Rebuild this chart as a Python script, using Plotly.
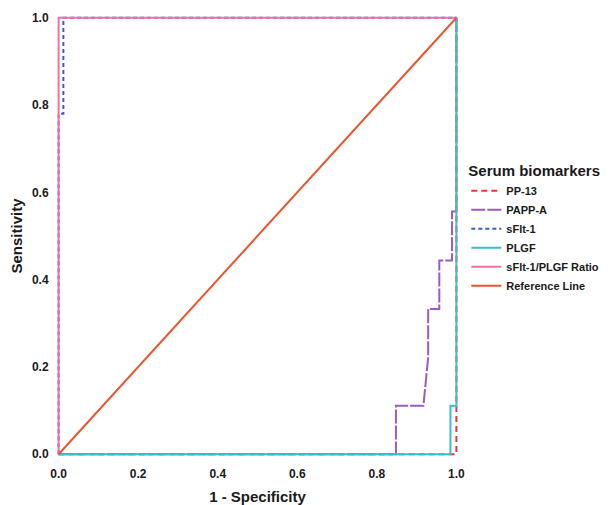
import plotly.graph_objects as go

# ROC curve data (1 - Specificity, Sensitivity)
pp13_x = [0.0, 1.0, 1.0, 1.0]
pp13_y = [0.0, 0.0, 0.111, 1.0]

pappa_x = [0.0, 0.848, 0.848, 0.917, 0.929, 0.929, 0.957, 0.957, 0.989, 0.989, 1.0, 1.0]
pappa_y = [0.0, 0.0, 0.111, 0.111, 0.222, 0.333, 0.333, 0.444, 0.444, 0.556, 0.556, 1.0]

sflt_x = [0.0, 0.0, 0.012, 0.012, 1.0]
sflt_y = [0.0, 0.78, 0.78, 1.0, 1.0]

plgf_x = [0.0, 0.985, 0.985, 1.0, 1.0]
plgf_y = [0.0, 0.0, 0.111, 0.111, 1.0]

ratio_x = [0.0, 0.0, 1.0]
ratio_y = [0.0, 1.0, 1.0]

ref_x = [0.0, 1.0]
ref_y = [0.0, 1.0]

tick_vals = [0.0, 0.2, 0.4, 0.6, 0.8, 1.0]
tick_text = ["0.0", "0.2", "0.4", "0.6", "0.8", "1.0"]

series = [
    ("PP-13", pp13_x, pp13_y, "#f2323c", "6px,4px"),
    ("PAPP-A", pappa_x, pappa_y, "#9b5cc2", "14px,2px"),
    ("sFlt-1", sflt_x, sflt_y, "#3a5cc6", "4px,3px"),
    ("PLGF", plgf_x, plgf_y, "#3dbdcc", "solid"),
    ("sFlt-1/PLGF Ratio", ratio_x, ratio_y, "#f06fa8", "solid"),
    ("Reference Line", ref_x, ref_y, "#e9552f", "solid"),
]

fig = go.Figure()
for name, xs, ys, color, dash in series:
    fig.add_trace(go.Scatter(x=xs, y=ys, mode="lines", name=f"<b>{name}</b>",
                             line=dict(color=color, width=2, dash=dash)))

font_family = "Liberation Sans, Arial, sans-serif"
pad = 0.004
fig.update_layout(
    width=616, height=505,
    margin=dict(l=57, r=158, t=16, b=49),
    paper_bgcolor="white", plot_bgcolor="white",
    font=dict(family=font_family, color="#1a1a1a"),
    showlegend=True,
    legend=dict(
        title=dict(text="<b>Serum biomarkers</b>", font=dict(size=15, color="#1a1a1a")),
        xref="container", x=0.757, y=0.68, xanchor="left", yanchor="top",
        font=dict(size=11, color="#1a1a1a", family=font_family),
        itemwidth=30, tracegroupgap=0,
        bgcolor="rgba(0,0,0,0)",
    ),
    xaxis=dict(
        range=[-pad, 1 + pad], tickvals=tick_vals, ticktext=[f"<b>{t}</b>" for t in tick_text],
        showgrid=False, zeroline=False, showline=False, automargin=False,
        ticks="outside", ticklen=7, tickcolor="rgba(0,0,0,0)",
        tickfont=dict(size=12, color="#1a1a1a"),
        title=dict(text="<b>1 - Specificity</b>", font=dict(size=15), standoff=12),
    ),
    yaxis=dict(
        range=[-pad, 1 + pad], tickvals=tick_vals, ticktext=[f"<b>{t}</b>" for t in tick_text],
        showgrid=False, zeroline=False, showline=False, automargin=False,
        ticks="outside", ticklen=5, tickcolor="rgba(0,0,0,0)",
        tickfont=dict(size=12, color="#1a1a1a"),
        title=dict(text="<b>Sensitivity</b>", font=dict(size=15), standoff=5),
    ),
)

fig.write_html("out.html")
